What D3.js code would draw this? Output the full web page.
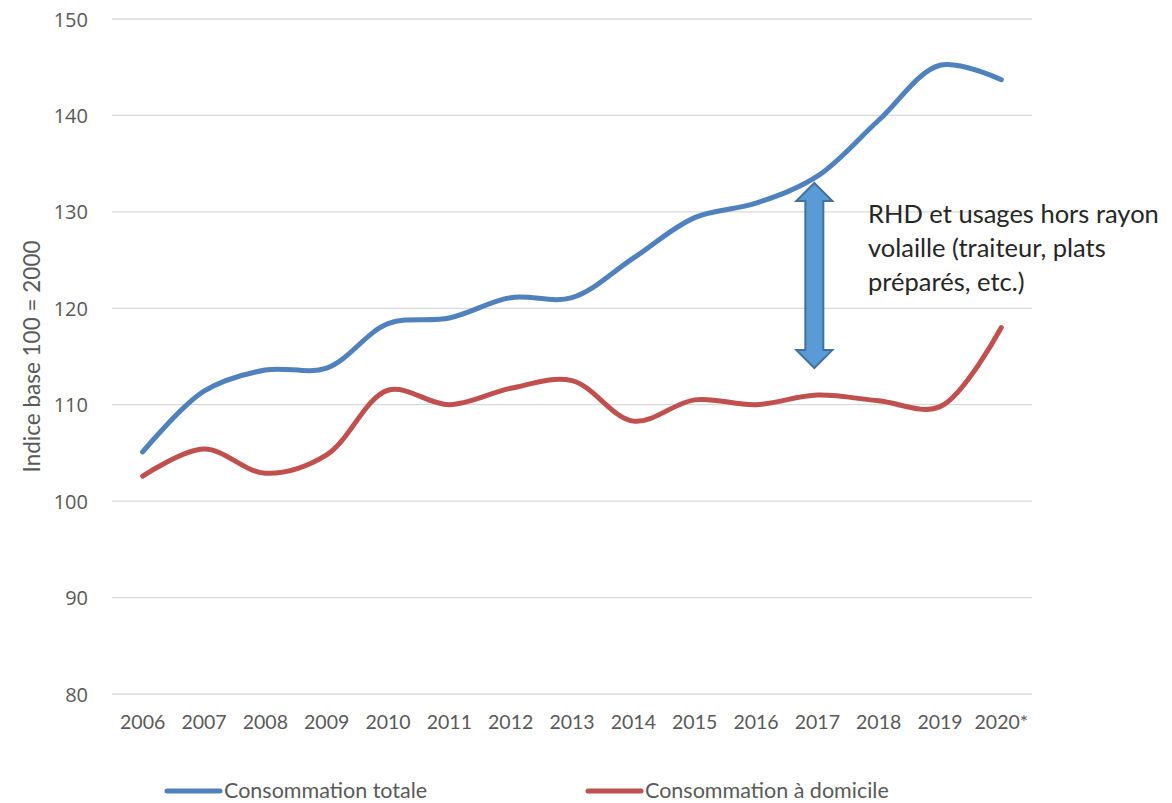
<!DOCTYPE html>
<html>
<head>
<meta charset="utf-8">
<script src="https://cdn.jsdelivr.net/npm/d3@7"></script>
<style>
  body { margin: 0; background: #fff; }
  svg { display: block; }
</style>
</head>
<body>
<div id="chart"></div>
<script>
// data
const years = ["2006", "2007", "2008", "2009", "2010", "2011", "2012", "2013", "2014", "2015", "2016", "2017", "2018", "2019", "2020*"];
const totale = [105.1, 111.4, 113.6, 113.8, 118.4, 119.0, 121.1, 121.1, 125.2, 129.4, 130.9, 133.7, 139.5, 145.2, 143.7];
const domicile = [102.6, 105.4, 102.9, 104.8, 111.5, 110.0, 111.7, 112.5, 108.3, 110.5, 110.0, 111.0, 110.4, 109.8, 118.0];
const yTicks = [80, 90, 100, 110, 120, 130, 140, 150];

const width = 1172, height = 803;
const margin = {top: 19, right: 140, bottom: 109, left: 112};

let svg = d3.select("#chart")
    .append("svg")
    .attr("width", width)
    .attr("height", height);

let x = d3.scaleBand()
    .domain(years)
    .range([margin.left, width - margin.right]);

let y = d3.scaleLinear()
    .domain([80, 150])
    .range([height - margin.bottom, margin.top]);

// gridlines
svg.append("g")
    .selectAll("line")
    .data(yTicks)
    .enter()
    .append("line")
    .attr("x1", margin.left)
    .attr("x2", width - margin.right)
    .attr("y1", d => y(d))
    .attr("y2", d => y(d))
    .attr("stroke", "#d9d9d9")
    .attr("stroke-width", 1.3);

// y tick labels
svg.append("g")
    .selectAll("text")
    .data(yTicks)
    .enter()
    .append("text")
    .attr("x", 88)
    .attr("y", d => y(d) + 7.5)
    .attr("text-anchor", "end")
    .style("font-family", "'Open Sans'")
    .style("font-size", "20px")
    .style("fill", "#595959")
    .text(d => d);

// x tick labels
svg.append("g")
    .selectAll("text")
    .data(years)
    .enter()
    .append("text")
    .attr("x", d => x(d) + x.bandwidth() / 2)
    .attr("y", 729)
    .attr("text-anchor", "middle")
    .style("font-family", "Lato")
    .style("font-size", "19.5px")
    .style("fill", "#595959")
    .text(d => d);

// y axis title
svg.append("text")
    .attr("transform", `translate(40, ${(margin.top + height - margin.bottom) / 2}) rotate(-90)`)
    .attr("text-anchor", "middle")
    .style("font-family", "Lato")
    .style("font-size", "22.5px")
    .style("fill", "#595959")
    .text("Indice base 100 = 2000");

let line = d3.line()
    .x((d, i) => x(years[i]) + x.bandwidth() / 2)
    .y(d => y(d))
    .curve(d3.curveCatmullRom.alpha(0.5));

svg.append("path")
    .datum(totale)
    .attr("d", line)
    .attr("fill", "none")
    .attr("stroke", "#4f81bd")
    .attr("stroke-width", 5)
    .attr("stroke-linecap", "round");

svg.append("path")
    .datum(domicile)
    .attr("d", line)
    .attr("fill", "none")
    .attr("stroke", "#c0504d")
    .attr("stroke-width", 5)
    .attr("stroke-linecap", "round");

// double arrow annotation
let ax = x("2017") + x.bandwidth() / 2 - 3;
let aTop = y(133.0), aBot = y(113.8);
let hw = 18, sw = 9, hh = 18;
let arrowPts = [
    [ax, aTop], [ax + hw, aTop + hh], [ax + sw, aTop + hh], [ax + sw, aBot - hh],
    [ax + hw, aBot - hh], [ax, aBot], [ax - hw, aBot - hh], [ax - sw, aBot - hh],
    [ax - sw, aTop + hh], [ax - hw, aTop + hh]
];
svg.append("path")
    .attr("d", "M" + arrowPts.map(p => p.join(",")).join("L") + "Z")
    .attr("fill", "#5b9bd5")
    .attr("stroke", "#41719c")
    .attr("stroke-width", 2);

let note = svg.append("text")
    .style("font-family", "Lato")
    .style("font-size", "25.5px")
    .style("fill", "#262626");
["RHD et usages hors rayon", "volaille (traiteur, plats", "préparés, etc.)"].forEach((t, i) => {
    note.append("tspan").attr("x", 868).attr("y", 223 + i * 34).text(t);
});

// legend
let legend = [
    {name: "Consommation totale", color: "#4f81bd", x: 165},
    {name: "Consommation à domicile", color: "#c0504d", x: 586}
];
let lg = svg.append("g").selectAll("g").data(legend).enter().append("g");
lg.append("line")
    .attr("x1", d => d.x + 2)
    .attr("x2", d => d.x + 55)
    .attr("y1", 791)
    .attr("y2", 791)
    .attr("stroke", d => d.color)
    .attr("stroke-width", 5)
    .attr("stroke-linecap", "round");
lg.append("text")
    .attr("x", d => d.x + 59)
    .attr("y", 798)
    .style("font-family", "Lato")
    .style("font-size", "21.5px")
    .style("fill", "#595959")
    .text(d => d.name);
</script>
</body>
</html>
